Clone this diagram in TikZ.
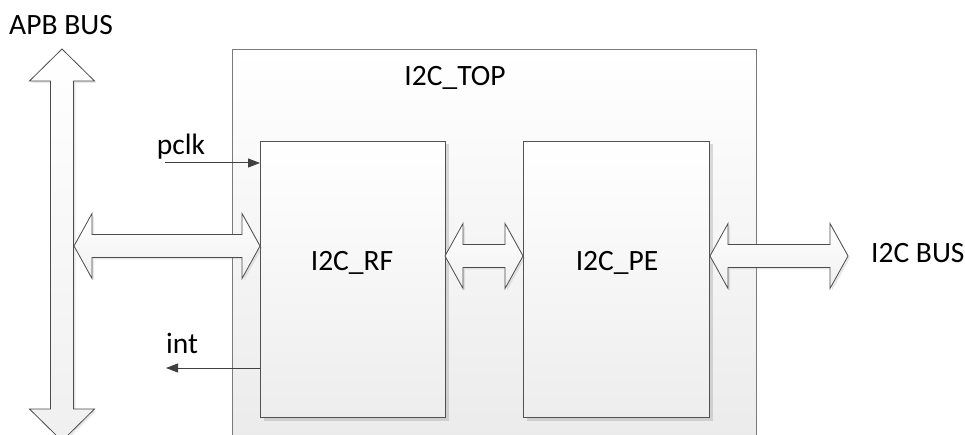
\documentclass[tikz,border=0pt]{standalone}
\usepackage{fontspec}
\setmainfont{Carlito}
\usetikzlibrary{arrows.meta,shadows,calc}
\newcommand{\hbusarrow}[3]{%
  \path[busarrow] (#1,#3) -- ++(18,-32.5) -- ++(0,21) -- ({#2-18},{#3-11.5}) -- ++(0,-21)
    -- (#2,#3) -- ({#2-18},{#3+32.5}) -- ++(0,-21) -- ({#1+18},{#3+11.5}) -- ++(0,21) -- cycle;}
\begin{document}
\begin{tikzpicture}[x=1pt,y=-1pt,
  lbl/.style={font=\fontsize{29.5}{33}\selectfont, inner sep=0pt, anchor=base, text=black},
  outerbox/.style={draw=black!52, line width=1pt, top color=white, bottom color=black!8, inner sep=0pt},
  blockbox/.style={draw=black!68, line width=1pt, top color=white, bottom color=black!7, inner sep=0pt,
    drop shadow={shadow xshift=3pt, shadow yshift=-3pt, opacity=0.3, fill=black!45}},
  busarrow/.style={draw=black!70, line width=0.8pt, line join=miter, top color=white, bottom color=black!6,
    drop shadow={shadow xshift=2pt, shadow yshift=-2pt, opacity=0.2, fill=black!45}},
  sig/.style={draw=black!75, line width=1pt, -{Triangle[length=12pt,width=9pt]}}
]
\fill[white] (0,0) rectangle (965,435);
\useasboundingbox (0,0) rectangle (965,435);

% outer box
\node[outerbox, anchor=north west, minimum width=524pt, minimum height=401pt] (top) at (232,49) {};
\node[lbl] (toplbl) at (455,86) {I2C\_TOP};

% inner blocks
\node[blockbox, anchor=north west, minimum width=185pt, minimum height=276pt] (rf) at (260,141) {};
\node[blockbox, anchor=north west, minimum width=186pt, minimum height=276pt] (pe) at (523,141) {};
\node[lbl] (rflbl) at (352,270) {I2C\_RF};
\node[lbl] (pelbl) at (617,270) {I2C\_PE};

% APB bus vertical arrow
\path[busarrow] (62,49) -- (94.5,81) -- (73.5,81) -- (73.5,409) -- (94.5,409) -- (62,441)
  -- (29.5,409) -- (50.5,409) -- (50.5,81) -- (29.5,81) -- cycle;
\node[lbl] (apb) at (61,35) {APB BUS};

% horizontal bus arrows
\hbusarrow{74}{260}{246}
\hbusarrow{445}{523}{256}
\hbusarrow{710}{848}{256}
\node[lbl, anchor=base west] (i2cbus) at (871,262) {I2C BUS};

% signals
\coordinate (pclkin) at (165,163);
\draw[sig] (pclkin) -- (pclkin -| rf.west);
\node[lbl] (pclk) at (181,155) {pclk};
\coordinate (intout) at (166,368);
\draw[sig] (intout -| rf.west) -- (intout);
\node[lbl] (int) at (182,353) {int};
\end{tikzpicture}
\end{document}
